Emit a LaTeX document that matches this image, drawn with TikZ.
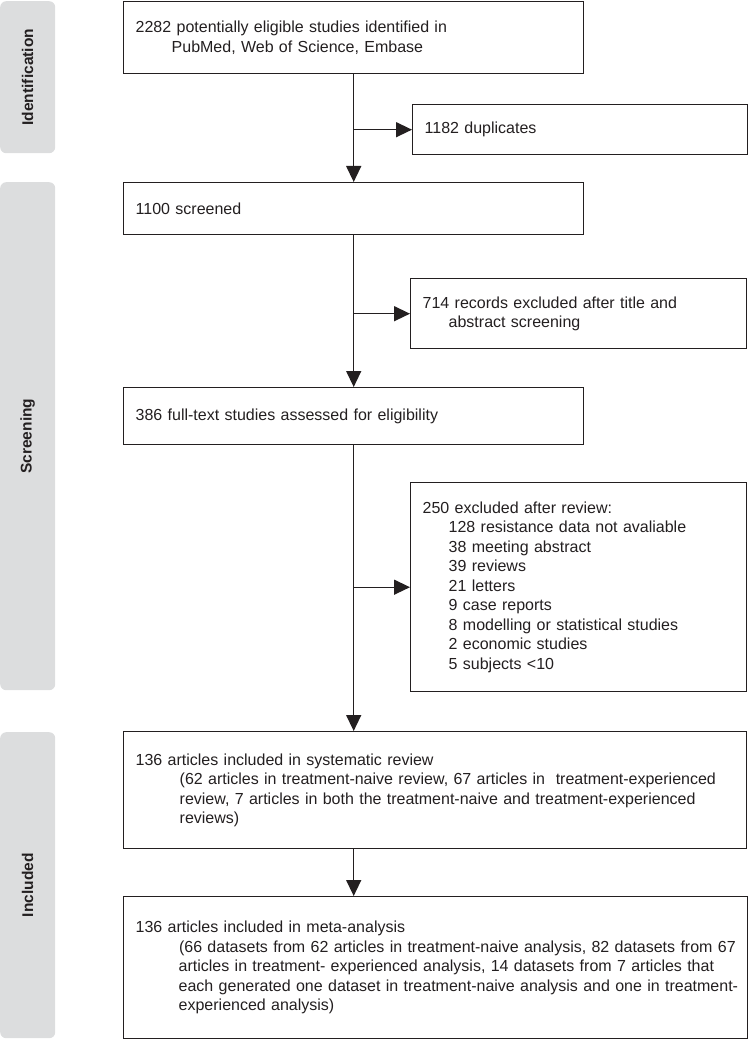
\documentclass[tikz,border=0pt]{standalone}
\usepackage{fontspec}
\setmainfont{Liberation Sans}
\usetikzlibrary{arrows.meta}
\definecolor{bargray}{HTML}{DCDDDE}
\definecolor{boxline}{HTML}{231F20}
\tikzset{
	stagebar/.style={fill=bargray,rounded corners=6pt,anchor=north west,minimum width=55pt,inner sep=0pt},
	stagelabel/.style={rotate=90,font=\bfseries\fontsize{15.5}{18}\selectfont,text=boxline},
	flowbox/.style={draw=boxline,line width=1.4pt,anchor=north west,align=left,inner xsep=12pt,inner ysep=0pt,font=\fontsize{16}{19.5}\selectfont,text=boxline},
	flowarrow/.style={draw=boxline,line width=1.4pt,-{Triangle[length=16pt,width=15pt]}}
}
\begin{document}
\begin{tikzpicture}[x=1pt,y=-1pt]
		\useasboundingbox (0,0) rectangle (748,1040);
		\node[stagebar,minimum height=152pt](barid) at (0,1){};
		\node[stagebar,minimum height=508pt](barscr) at (0,182){};
		\node[stagebar,minimum height=306pt](barinc) at (0,732){};
		\node[stagelabel](lblid) at (barid.center){Identification};
		\node[stagelabel](lblscr) at (barscr.center){Screening};
		\node[stagelabel](lblinc) at (barinc.center){Included};
		
		\node[flowbox,text width=436pt,minimum height=72pt](idf) at (123,1){2282 potentially eligible studies identified in\\\hspace*{36pt}PubMed, Web of Science, Embase};
		\node[flowbox,text width=311pt,minimum height=50pt](dup) at (412,104){1182 duplicates};
		\node[flowbox,text width=436pt,minimum height=52pt](scr) at (123,182){1100 screened};
		\node[flowbox,text width=312pt,minimum height=70pt](ttl) at (410,278){714 records excluded after title and\\\hspace*{26pt}abstract screening};
		\node[flowbox,text width=436pt,minimum height=57pt](elig) at (123,387){386 full-text studies assessed for eligibility};
		\node[flowbox,text width=312pt,minimum height=209pt](excl) at (410,482){250 excluded after review:\\
			\hspace*{26pt}128 resistance data not avaliable\\
			\hspace*{26pt}38 meeting abstract\\
			\hspace*{26pt}39 reviews\\
			\hspace*{26pt}21 letters\\
			\hspace*{26pt}9 case reports\\
			\hspace*{26pt}8 modelling or statistical studies\\
			\hspace*{26pt}2 economic studies\\
			\hspace*{26pt}5 subjects <10};
		\node[flowbox,text width=599pt,minimum height=117pt](sysrev) at (123,731){136 articles included in systematic review\\
			\hspace*{44pt}(62 articles in treatment-naive review, 67 articles in\ \ treatment-experienced\\
			\hspace*{44pt}review, 7 articles in both the treatment-naive and treatment-experienced\\
			\hspace*{44pt}reviews)};
		\node[flowbox,text width=600pt,minimum height=142pt](meta) at (123,896){136 articles included in meta-analysis\\
			\hspace*{38pt}\mbox{\ (66 datasets from 62 articles in treatment-naive analysis, 82 datasets from 67}\\
			\hspace*{43pt}\mbox{articles in treatment- experienced analysis, 14 datasets from 7 articles that}\\
			\hspace*{43pt}\mbox{each generated one dataset in treatment-naive analysis and one in treatment-}\\
			\hspace*{43pt}experienced analysis)};
		
		\draw[flowarrow](idf)--(scr);
		\draw[flowarrow](idf.south |- dup.west)--(dup);
		\draw[flowarrow](scr)--(elig);
		\draw[flowarrow](scr.south |- ttl.west)--(ttl);
		\draw[flowarrow](elig.south)--(elig.south |- sysrev.north);
		\draw[flowarrow](elig.south |- excl.west)--(excl);
		\draw[flowarrow](elig.south |- sysrev.south)--(elig.south |- meta.north);
	\end{tikzpicture}
\end{document}
